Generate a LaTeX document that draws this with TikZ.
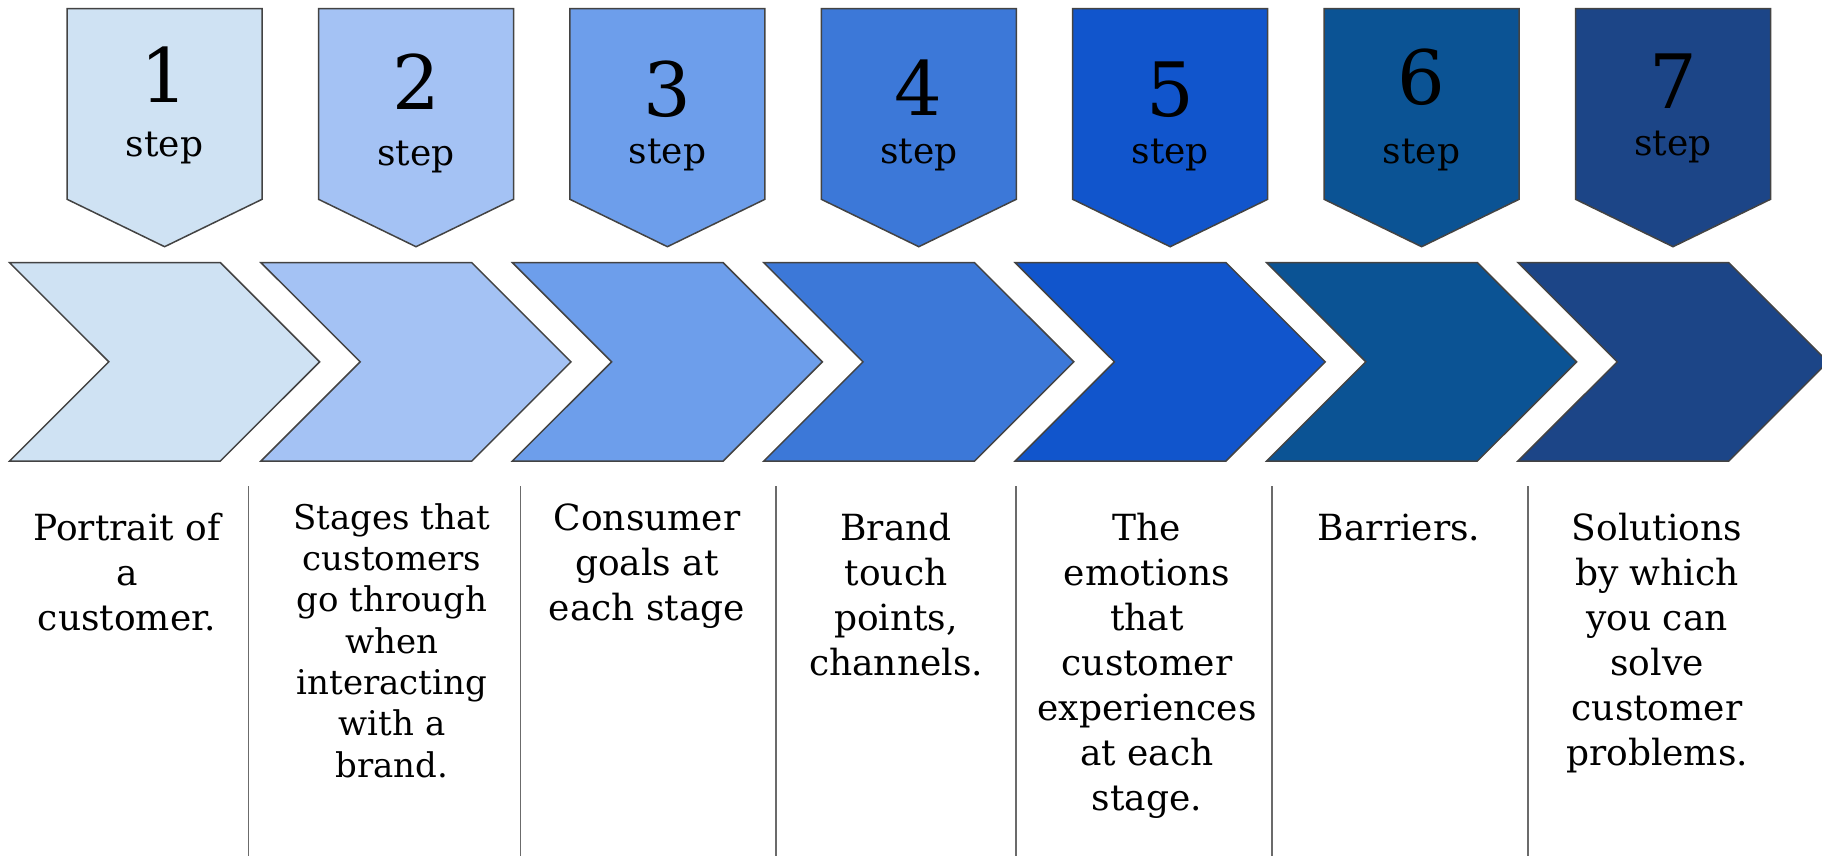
\documentclass[tikz,border=0pt]{standalone}
\usepackage{fontspec}
\setmainfont{DejaVu Serif}
\definecolor{ca}{HTML}{CFE2F3}
\definecolor{cb}{HTML}{A4C2F4}
\definecolor{cc}{HTML}{6D9EEB}
\definecolor{cd}{HTML}{3C78D8}
\definecolor{ce}{HTML}{1155CC}
\definecolor{cf}{HTML}{0B5394}
\definecolor{cg}{HTML}{1C4587}
\definecolor{outl}{HTML}{434343}
\definecolor{sepc}{HTML}{6B6B6B}
\newcommand{\fstrut}{\rule{0pt}{40pt}}
\begin{document}
\begin{tikzpicture}[x=1pt,y=-1pt,
  shp/.style={draw=outl,line width=1.5pt,line join=miter},
  num/.style={anchor=base,inner sep=0pt,font=\fontsize{75}{75}\selectfont},
  stp/.style={anchor=base,inner sep=0pt,font=\fontsize{36}{36}\selectfont},
  body/.style={anchor=north,align=center,inner sep=0pt,font=\fontsize{36}{45}\selectfont},
  bodyb/.style={anchor=north,align=center,inner sep=0pt,font=\fontsize{34}{41.3}\selectfont},
  sepl/.style={draw=sepc,line width=1.5pt}]
\useasboundingbox (0,0) rectangle (1822,856);
\clip (0,0) rectangle (1822,856);
\foreach \i/\c in {0/ca,1/cb,2/cc,3/cd,4/ce,5/cf,6/cg}{
  \begin{scope}[xshift=\i*251.4]
    \path[shp,fill=\c] (67.1,8.7) -- (262.1,8.7) -- (262.1,199.3) -- (164.6,246.7) -- (67.1,199.3) -- cycle;
    \path[shp,fill=\c] (9.6,262.7) -- (220.4,262.7) -- (319.6,361.85) -- (220.4,461) -- (9.6,461) -- (108.8,361.85) -- cycle;
  \end{scope}
}
% numbers
\node[num] (n1) at (164.6,102.5) {1};
\node[num] (n2) at (416.0,110) {2};
\node[num] (n3) at (667.4,117) {3};
\node[num] (n4) at (918.8,116) {4};
\node[num] (n5) at (1170.2,117) {5};
\node[num] (n6) at (1421.6,105) {6};
\node[num] (n7) at (1673.0,109) {7};
% step labels
\node[stp] (s1) at (164.6,157) {step};
\node[stp] (s2) at (416.0,165) {step};
\node[stp] (s3) at (667.4,163) {step};
\node[stp] (s4) at (918.8,163) {step};
\node[stp] (s5) at (1170.2,163) {step};
\node[stp] (s6) at (1421.6,163) {step};
\node[stp] (s7) at (1673.0,155) {step};
% separators
\draw[sepl] (248.7,486) -- (248.7,856);
\draw[sepl] (520.6,486) -- (520.6,856);
\draw[sepl] (776.2,486) -- (776.2,856);
\draw[sepl] (1015.8,486) -- (1015.8,856);
\draw[sepl] (1272.2,486) -- (1272.2,856);
\draw[sepl] (1528.0,486) -- (1528.0,856);
% descriptions
\node[body] (t1) at (127,500) {\fstrut Portrait of\\a\\customer.};
\node[bodyb] (t2) at (392,489) {\fstrut Stages that\\customers\\go through\\when\\interacting\\with a\\brand.};
\node[body] (t3) at (647,490) {\fstrut Consumer\\goals at\\each stage};
\node[body] (t4) at (896,500) {\fstrut Brand\\touch\\points,\\channels.};
\node[body] (t5) at (1147,500) {\fstrut The\\emotions\\that\\customer\\experiences\\at each\\stage.};
\node[body] (t6) at (1399,500) {\fstrut Barriers.};
\node[body] (t7) at (1657,500) {\fstrut Solutions\\by which\\you can\\solve\\customer\\problems.};
\end{tikzpicture}
\end{document}
